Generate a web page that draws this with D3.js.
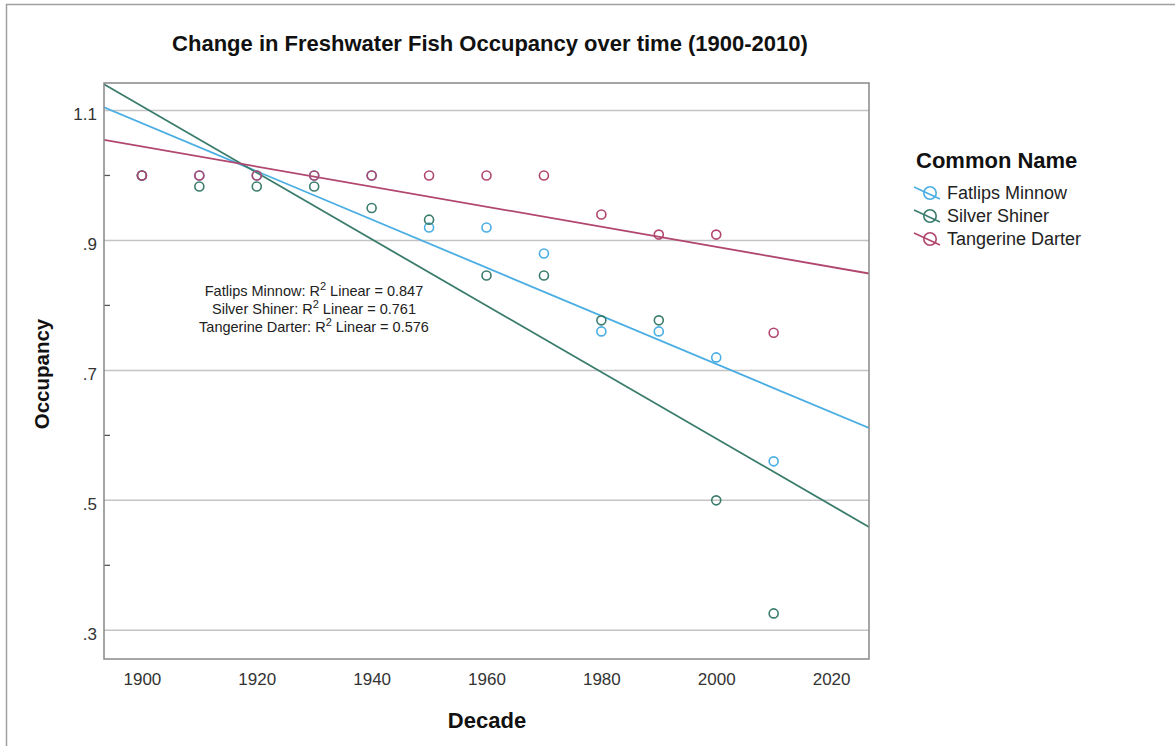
<!DOCTYPE html>
<html>
<head>
<meta charset="utf-8">
<script src="https://cdn.jsdelivr.net/npm/d3@7"></script>
<style>
  body { margin: 0; background: #fff; }
  svg { font-family: "Liberation Sans", Arial, sans-serif; }
</style>
</head>
<body>
<svg width="1175" height="746"></svg>
<script>
// decades on the x axis
var decades = [1900, 1910, 1920, 1930, 1940, 1950, 1960, 1970, 1980, 1990, 2000, 2010];

// occupancy per species
var fatlipsMinnow   = [1.00, 1.00, 1.00, 1.00, 1.00, 0.92, 0.92, 0.88, 0.76, 0.76, 0.72, 0.56];
var silverShiner    = [1.00, 0.983, 0.983, 0.983, 0.95, 0.932, 0.846, 0.846, 0.777, 0.777, 0.50, 0.326];
var tangerineDarter = [1.00, 1.00, 1.00, 1.00, 1.00, 1.00, 1.00, 1.00, 0.94, 0.909, 0.909, 0.758];

var seriesNames = ["Fatlips Minnow", "Silver Shiner", "Tangerine Darter"];
var r2Labels = ["0.847", "0.761", "0.576"];

var xTicks = [1900, 1920, 1940, 1960, 1980, 2000, 2020];
var yTicks = [0.3, 0.5, 0.7, 0.9, 1.1];
var yMinorTicks = [0.4, 0.6, 0.8, 1.0];

var series = [
  {name: seriesNames[0], values: fatlipsMinnow, color: "#4aaee3"},
  {name: seriesNames[1], values: silverShiner, color: "#3a7c6c"},
  {name: seriesNames[2], values: tangerineDarter, color: "#b1466f"}
];

var svg = d3.select("svg");
var margin = {top: 83, left: 104, right: 869, bottom: 659};

var x = d3.scaleLinear().domain([1893.4, 2026.6]).range([margin.left, margin.right]);
var y = d3.scaleLinear().domain([0.2558, 1.1423]).range([margin.bottom, margin.top]);

// outer frame (only top and left edges are visible in the picture)
svg.append("rect")
  .attr("x", 6.5).attr("y", 4.5)
  .attr("width", 1200).attr("height", 800)
  .attr("fill", "none").attr("stroke", "#a0a0a0").attr("stroke-width", 1.5);

svg.append("clipPath").attr("id", "plotclip")
  .append("rect")
  .attr("x", margin.left).attr("y", margin.top)
  .attr("width", margin.right - margin.left).attr("height", margin.bottom - margin.top);

// gridlines
svg.append("g")
  .selectAll("line")
  .data(yTicks)
  .enter().append("line")
  .attr("x1", margin.left).attr("x2", margin.right)
  .attr("y1", function(d) { return y(d); })
  .attr("y2", function(d) { return y(d); })
  .attr("stroke", "#c4c4c4").attr("stroke-width", 1.5);

// y axis
var yAxis = svg.append("g")
  .attr("transform", "translate(" + margin.left + ",0)")
  .call(d3.axisLeft(y).tickValues(yTicks).tickSize(0).tickPadding(7)
    .tickFormat(function(d) { return d >= 1 ? d3.format(".1f")(d) : d3.format(".1f")(d).replace(/^0/, ""); }));
yAxis.select(".domain").remove();
yAxis.selectAll("text").attr("font-size", 17).attr("dy", "0.55em").attr("fill", "#333")
  .attr("font-family", "Liberation Sans, Arial, sans-serif");

svg.append("g")
  .selectAll("line")
  .data(yMinorTicks)
  .enter().append("line")
  .attr("x1", margin.left).attr("x2", margin.left + 6)
  .attr("y1", function(d) { return y(d); })
  .attr("y2", function(d) { return y(d); })
  .attr("stroke", "#555").attr("stroke-width", 1.3);

// x axis
var xAxis = svg.append("g")
  .attr("transform", "translate(0," + margin.bottom + ")")
  .call(d3.axisBottom(x).tickValues(xTicks).tickSize(0).tickPadding(14).tickFormat(d3.format("d")));
xAxis.select(".domain").remove();
xAxis.selectAll("text").attr("font-size", 17).attr("fill", "#333")
  .attr("font-family", "Liberation Sans, Arial, sans-serif");

// fit lines
var plot = svg.append("g").attr("clip-path", "url(#plotclip)");

series.forEach(function(s) {
  var mx = d3.mean(decades), my = d3.mean(s.values);
  var sxy = d3.sum(decades, function(d, i) { return (d - mx) * (s.values[i] - my); });
  var sxx = d3.sum(decades, function(d) { return (d - mx) * (d - mx); });
  var slope = sxy / sxx, icpt = my - slope * mx;
  var dom = x.domain();
  plot.append("line")
    .attr("x1", x(dom[0])).attr("y1", y(icpt + slope * dom[0]))
    .attr("x2", x(dom[1])).attr("y2", y(icpt + slope * dom[1]))
    .attr("stroke", s.color).attr("stroke-width", 1.8);
});

// points
series.forEach(function(s) {
  plot.append("g")
    .selectAll("circle")
    .data(s.values)
    .enter().append("circle")
    .attr("cx", function(d, i) { return x(decades[i]); })
    .attr("cy", function(d) { return y(d); })
    .attr("r", 4.5)
    .attr("fill", "none")
    .attr("stroke", s.color)
    .attr("stroke-width", 1.6);
});

// plot frame
svg.append("rect")
  .attr("x", margin.left).attr("y", margin.top)
  .attr("width", margin.right - margin.left).attr("height", margin.bottom - margin.top)
  .attr("fill", "none").attr("stroke", "#888").attr("stroke-width", 1.5);

// R2 annotation
var ann = svg.append("g").attr("font-size", 14.5).attr("fill", "#222").attr("text-anchor", "middle");
series.forEach(function(s, i) {
  var t = ann.append("text").attr("x", 314).attr("y", 296 + i * 18.2);
  t.append("tspan").text(s.name + ": R");
  t.append("tspan").attr("dy", -6).attr("font-size", 11).text("2");
  t.append("tspan").attr("dy", 6).text(" Linear = " + r2Labels[i]);
});

// title
svg.append("text")
  .attr("x", 490).attr("y", 51)
  .attr("text-anchor", "middle")
  .attr("font-size", 22).attr("font-weight", "bold").attr("fill", "#111")
  .text("Change in Freshwater Fish Occupancy over time (1900-2010)");

// axis titles
svg.append("text")
  .attr("x", 487).attr("y", 728)
  .attr("text-anchor", "middle")
  .attr("font-size", 22).attr("font-weight", "bold").attr("fill", "#111")
  .text("Decade");

svg.append("text")
  .attr("transform", "translate(49,374) rotate(-90)")
  .attr("text-anchor", "middle")
  .attr("font-size", 20.5).attr("font-weight", "bold").attr("fill", "#111")
  .text("Occupancy");

// legend
var legend = svg.append("g").attr("transform", "translate(916,0)");
legend.append("text")
  .attr("x", 0).attr("y", 168)
  .attr("font-size", 22).attr("font-weight", "bold").attr("fill", "#111")
  .text("Common Name");

var item = legend.selectAll("g.item")
  .data(series)
  .enter().append("g")
  .attr("class", "item")
  .attr("transform", function(d, i) { return "translate(0," + (193 + i * 23) + ")"; });

item.append("line")
  .attr("x1", -2).attr("y1", -6).attr("x2", 24).attr("y2", 6)
  .attr("stroke", function(d) { return d.color; }).attr("stroke-width", 1.6);
item.append("circle")
  .attr("cx", 14).attr("cy", 0).attr("r", 6.2)
  .attr("fill", "none")
  .attr("stroke", function(d) { return d.color; }).attr("stroke-width", 1.6);
item.append("text")
  .attr("x", 31).attr("y", 6)
  .attr("font-size", 18).attr("fill", "#222")
  .text(function(d) { return d.name; });
</script>
</body>
</html>
